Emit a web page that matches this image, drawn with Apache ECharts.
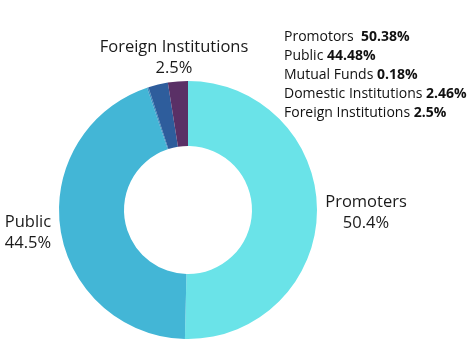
<!DOCTYPE html>
<html>
<head>
<meta charset="utf-8">
<script src="https://cdn.jsdelivr.net/npm/echarts@6/dist/echarts.min.js"></script>
<style>
  html, body { margin: 0; padding: 0; background: #fff; }
  #main { width: 474px; height: 355px; }
</style>
</head>
<body>
<div id="main"></div>
<script>
// 股权结构数据
const names = ["Promoters", "Public", "Mutual Funds", "Domestic Institutions", "Foreign Institutions"];
const values = [50.38, 44.48, 0.18, 2.46, 2.5];
const colors = ["#6ae3e8", "#43b6d6", "#3a8cc0", "#2e5d9c", "#5a3066"];
// 右上角说明文字
const noteNames = ["Promotors ", "Public", "Mutual Funds", "Domestic Institutions", "Foreign Institutions"];
const noteValues = ["50.38%", "44.48%", "0.18%", "2.46%", "2.5%"];
// 只显示这几个扇区的标签
const showLabel = [true, true, false, false, true];
const labelPos = [
  { x: 366, y: 213 },
  { x: 28, y: 233 },
  null,
  null,
  { x: 174, y: 58 },
];

const chart = echarts.init(document.getElementById("main"));

const pieData = names.map((n, i) => ({
  name: n,
  value: values[i],
  itemStyle: { color: colors[i] },
  label: { show: showLabel[i] },
}));

const noteText = noteNames.map((n, i) => "{n|" + n + " }{b|" + noteValues[i] + "}").join("\n");

const option = {
  animation: false,
  textStyle: { fontFamily: "Open Sans" },
  graphic: [
    {
      type: "text",
      left: 284,
      top: 30,
      style: {
        text: noteText,
        fill: "#111",
        rich: {
          n: { fontFamily: "Open Sans", fontSize: 14, lineHeight: 19, fill: "#111" },
          b: { fontFamily: "Open Sans", fontSize: 14, lineHeight: 19, fontWeight: "bold", fill: "#111" },
        },
      },
    },
  ],
  series: [
    {
      type: "pie",
      center: [188, 210],
      radius: [64, 129],
      startAngle: 90,
      clockwise: true,
      data: pieData,
      label: {
        position: "outside",
        fontFamily: "Open Sans",
        fontSize: 16.5,
        lineHeight: 21,
        color: "#1a1a1a",
        overflow: "none",
        formatter: (p) => p.name + "\n" + p.value.toFixed(1) + "%",
      },
      labelLine: { show: false },
      labelLayout: (params) => {
        const pos = labelPos[params.dataIndex];
        if (!pos) return {};
        return { x: pos.x, y: pos.y, align: "center", verticalAlign: "middle", hideOverlap: false };
      },
      emphasis: { disabled: true },
    },
  ],
};

chart.setOption(option);
</script>
</body>
</html>
